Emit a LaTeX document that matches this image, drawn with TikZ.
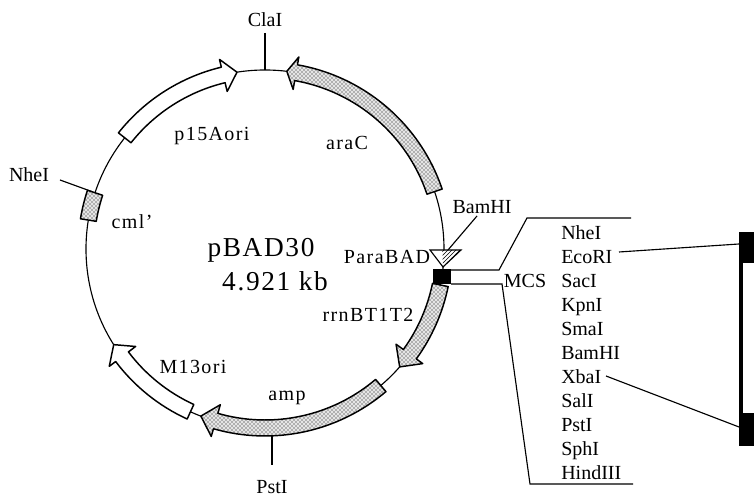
\documentclass[tikz,border=0pt]{standalone}
\usepackage{fontspec}
\setmainfont{Liberation Serif}
\usetikzlibrary{patterns}
\usetikzlibrary{calc}
\tikzset{
    site/.style={font=\fontsize{15}{17}\selectfont, inner sep=0pt},
    gene/.style={font=\fontsize{15}{17}\selectfont\addfontfeature{LetterSpace=7}, inner sep=0pt},
    title/.style={font=\fontsize{20.5}{23}\selectfont\addfontfeature{LetterSpace=6}, inner sep=0pt},
    band/.style={draw, line width=1.1pt, line join=round},
    dna/.style={line width=0.85pt}
}
\begin{document}
\begin{tikzpicture}[x=0.75pt,y=0.75pt]
    \useasboundingbox (0,0) rectangle (754,498);

    % --- Plasmid circle ---
    \coordinate (O) at (265,249);
    \draw[dna] (O) circle (179);

    % --- Restriction sites outside the circle ---
    \node[site] (ClaI) at (265,478) {ClaI};
    \node[site] (PstIout) at (272,11) {PstI};
    \node[site] (NheIout) at (29,323) {NheI};
    \node[site] (BamHIout) at (482,291) {BamHI};
    \coordinate (claTop) at (265,465);
    \coordinate (claBase) at (265,428);
    \coordinate (pstEnd) at (272,33);
    \coordinate (pstBase) at (272,62);
    \coordinate (nheEnd) at (60,318);
    \coordinate (nheBase) at (93,306);
    \coordinate (bamEnd) at (477,282);
    \coordinate (bamBase) at (448,248);
    \draw[dna] (claTop) -- (claBase);
    \draw[dna] (pstEnd) -- (pstBase);
    \draw[dna] (nheEnd) -- (nheBase);

    % --- Genes with an arrow head: tail / head base / tip / fill ---
    \begin{scope}[shift={(O)}]
        \foreach \t/\b/\h/\f in {18.7/80/83/1, 141.6/103.5/99/0, 245.4/217/212.3/0, 310.3/254/249/1, 348.4/324/318.8/1}{
            \ifnum\f=1
                \path[fill=gray!20] (\t:171) arc[start angle=\t, end angle=\b, radius=171] -- (\b:162) -- (\h:179) -- (\b:195) -- (\b:187) arc[start angle=\b, end angle=\t, radius=187] -- cycle;
                \path[band, pattern=crosshatch dots] (\t:171) arc[start angle=\t, end angle=\b, radius=171] -- (\b:162) -- (\h:179) -- (\b:195) -- (\b:187) arc[start angle=\b, end angle=\t, radius=187] -- cycle;
            \else
                \path[band, fill=white] (\t:171) arc[start angle=\t, end angle=\b, radius=171] -- (\b:162) -- (\h:179) -- (\b:195) -- (\b:187) arc[start angle=\b, end angle=\t, radius=187] -- cycle;
            \fi
        }
        % cml' has no head
        \path[fill=gray!20] (161.7:171) arc[start angle=161.7, end angle=170.7, radius=171] -- (170.7:187) arc[start angle=170.7, end angle=161.7, radius=187] -- cycle;
        \path[band, pattern=crosshatch dots] (161.7:171) arc[start angle=161.7, end angle=170.7, radius=171] -- (170.7:187) arc[start angle=170.7, end angle=161.7, radius=187] -- cycle;
    \end{scope}

    % --- ParaBAD promoter and MCS box ---
    \coordinate (paraL) at (430,248);
    \coordinate (paraR) at (461,248);
    \coordinate (paraT) at (443,231);
    \filldraw[dna, fill=white] (paraL) -- (paraR) -- (paraT) -- cycle;
    \fill[pattern=north east lines] ($(paraL)!0.4!(paraR)$) -- (paraR) -- (paraT) -- cycle;
    \draw[dna] (bamEnd) -- (bamBase);
    \fill (433,214) rectangle (451,229);

    % --- Lines fanning out to the MCS list ---
    \coordinate (upA) at (451,228);
    \coordinate (upB) at (499,228);
    \coordinate (upC) at (527,280);
    \coordinate (upD) at (631,280);
    \coordinate (loA) at (451,214);
    \coordinate (loB) at (502,214);
    \coordinate (loC) at (530,14);
    \coordinate (loD) at (633,14);
    \draw[dna] (upA) -- (upB) -- (upC) -- (upD);
    \draw[dna] (loA) -- (loB) -- (loC) -- (loD);

    % --- Black insert on the right edge ---
    \fill (739,235) rectangle (754,266);
    \fill (739,52) rectangle (754,85);
    \fill (739,85) rectangle (743,235);

    % --- MCS list ---
    \foreach \s/\y/\n in {NheI/258/nhe, EcoRI/234/eco, SacI/210/sac, KpnI/186/kpn, SmaI/162/sma, BamHI/138/bam, XbaI/114/xba, SalI/90/sal, PstI/66/pst, SphI/42/sph, HindIII/18/hind}
        \node[site, anchor=base west] (\n) at (561,\y) {\s};
    \node[site, anchor=base] (mcs) at (525,210) {MCS};
    \coordinate (ecoEnd) at (739,254);
    \coordinate (xbaEnd) at (739,71);
    \coordinate (ecoStart) at (619,246);
    \coordinate (xbaStart) at (606,122);
    \draw[dna] (ecoStart) -- (ecoEnd);
    \draw[dna] (xbaStart) -- (xbaEnd);

    % --- Labels inside the circle ---
    \foreach \s/\x/\y/\n in {p15Aori/212/362/pori, araC/347/355/arac, cml'/132/276/cml, M13ori/193/131/mori, amp/287/100/amp, rrnBT1T2/368/183/rrn, ParaBAD/387/241/para}
        \node[gene] (\n) at (\x,\y) {\s};
    \node[title] (name) at (261,248) {pBAD30};
    \node[title] (size) at (275,217) {4.921 kb};
\end{tikzpicture}
\end{document}
